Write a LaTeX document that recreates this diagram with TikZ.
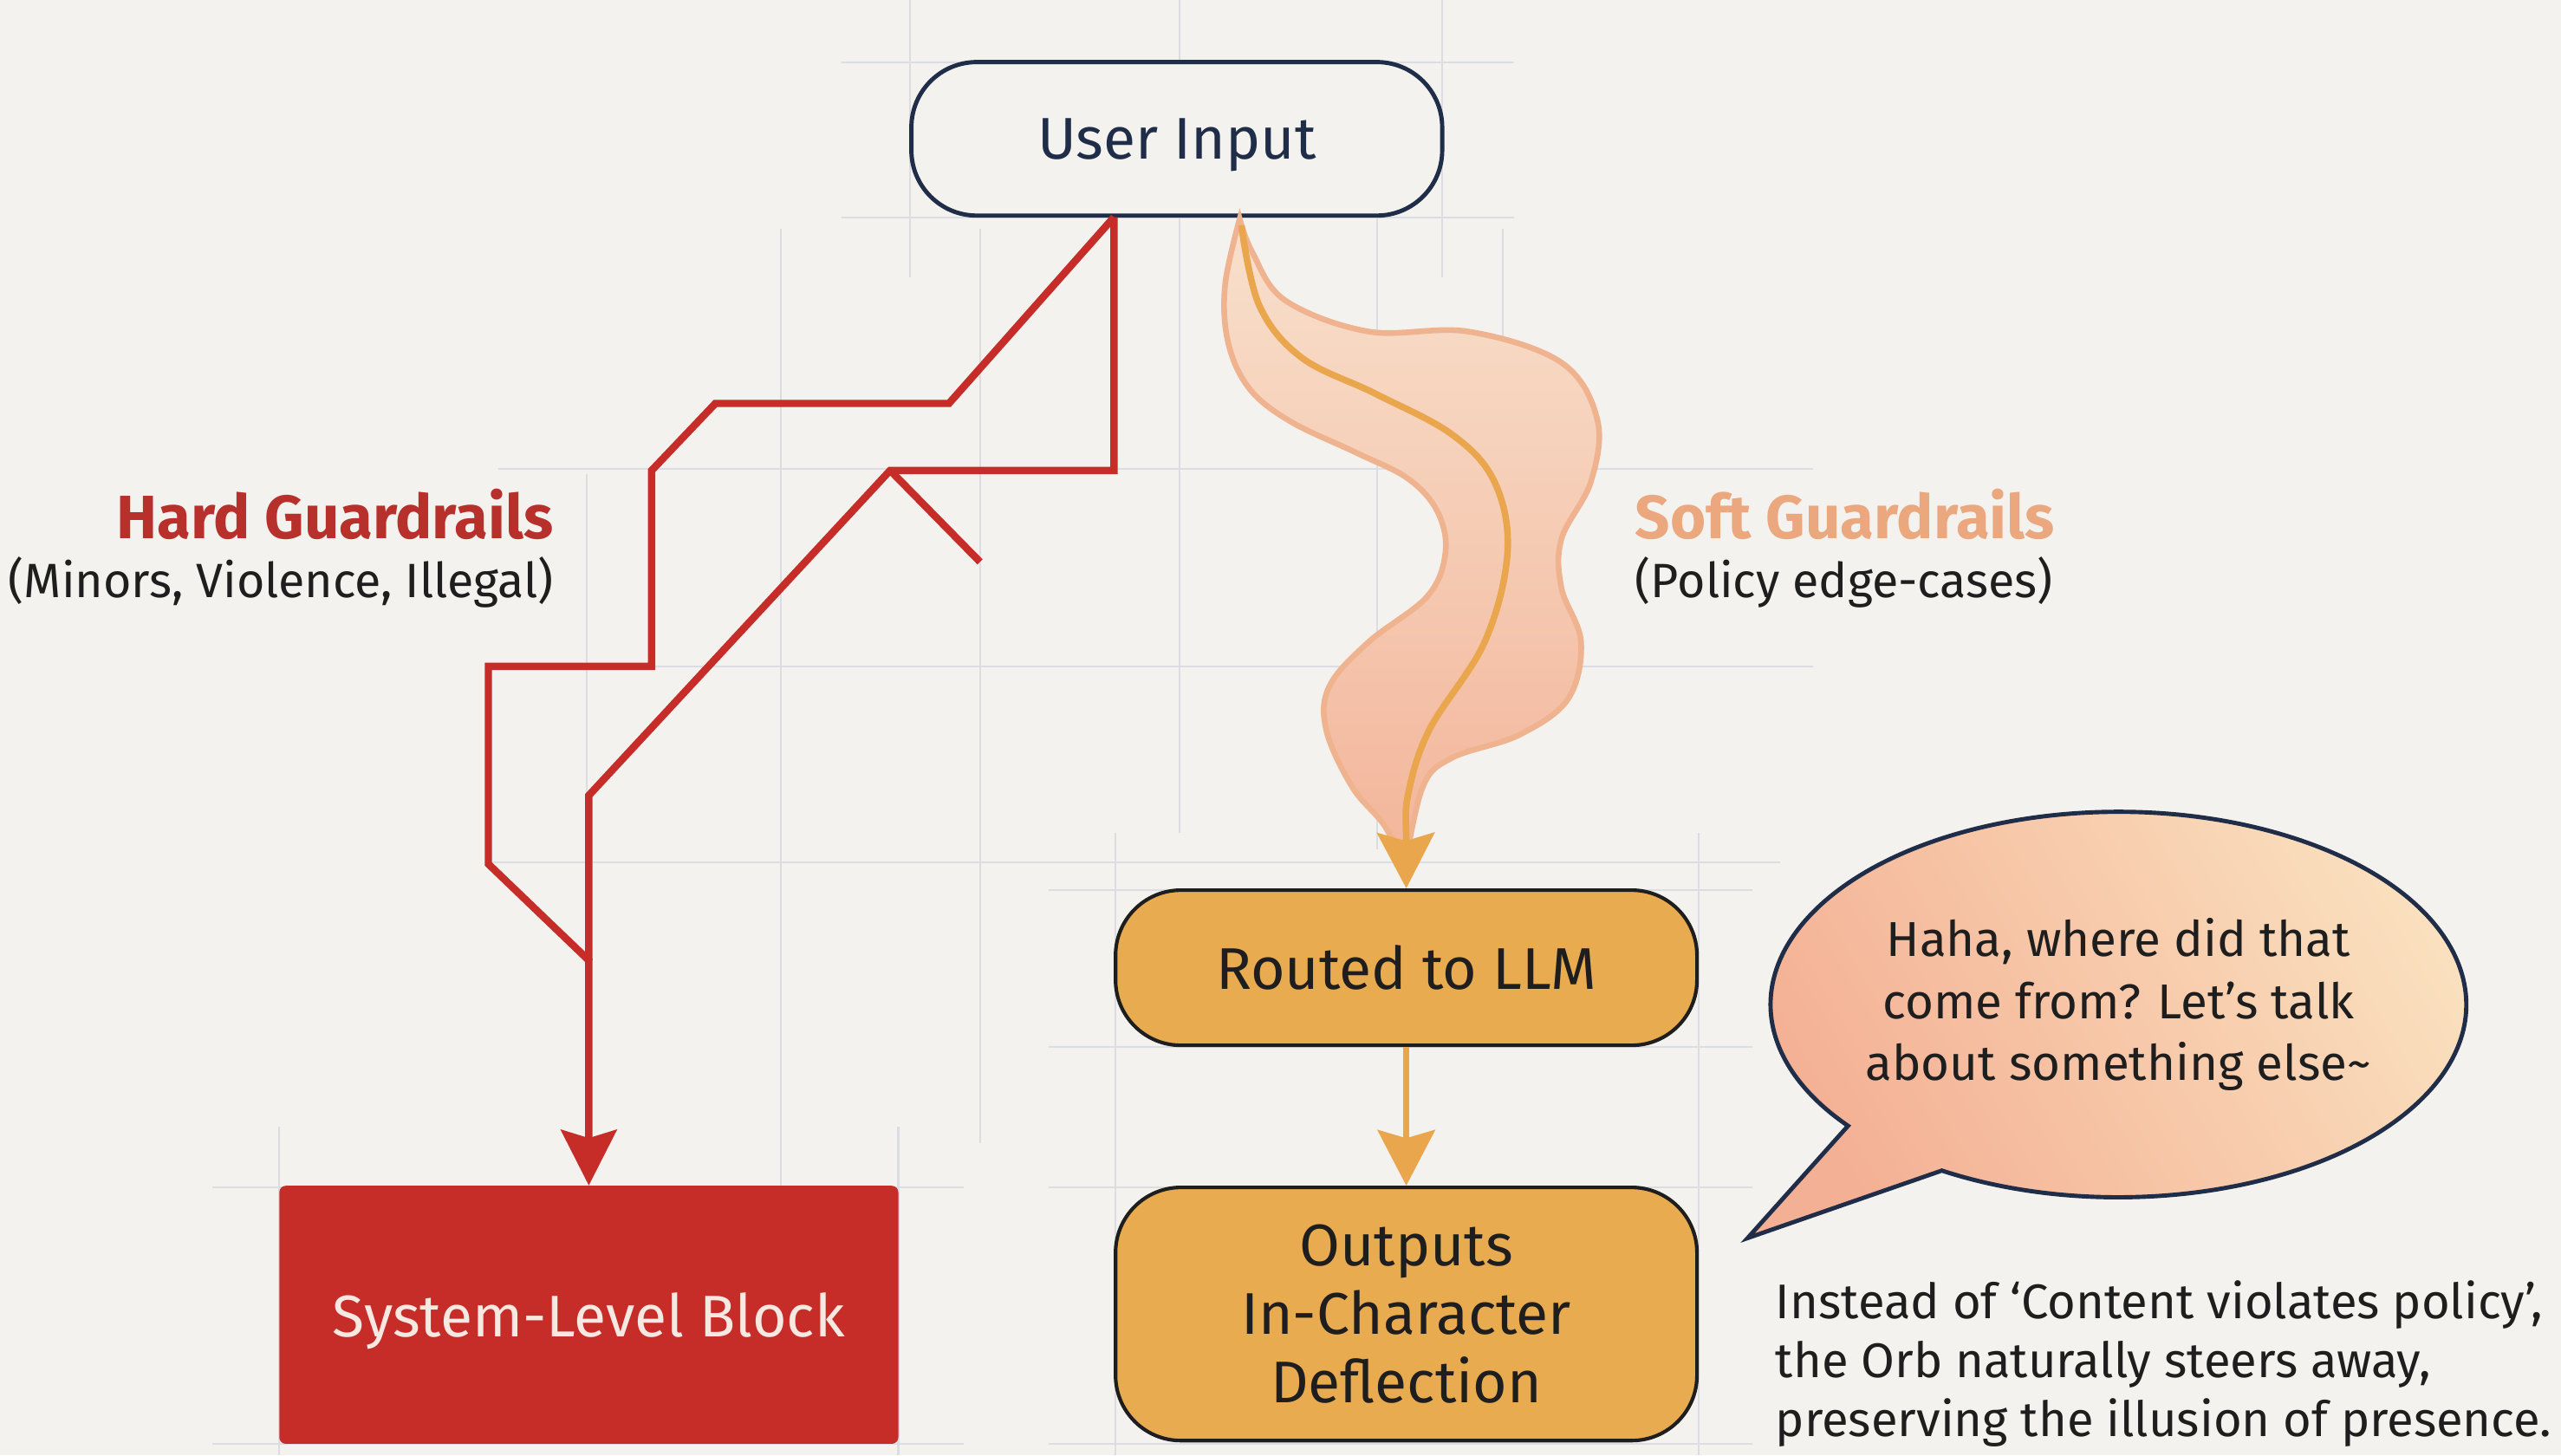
\documentclass[tikz,border=0pt]{standalone}
\usepackage{fontspec}
\setmainfont{Fira Sans}
\usetikzlibrary{arrows.meta,calc}
\definecolor{bg}{HTML}{F3F2EE}
\definecolor{gridc}{HTML}{DCDDE3}
\definecolor{navy}{HTML}{1F2D48}
\definecolor{hred}{HTML}{C62D29}
\definecolor{hlabel}{HTML}{B8302C}
\definecolor{obox}{HTML}{E9AB50}
\definecolor{oline}{HTML}{E9A64C}
\definecolor{dark}{HTML}{1E1E1E}
\definecolor{slabel}{HTML}{EBA77E}
\definecolor{flameedge}{HTML}{EFB48F}
\definecolor{flametop}{HTML}{F8E0CC}
\definecolor{flamebot}{HTML}{F3B59A}
\definecolor{bubl}{HTML}{F4B094}
\definecolor{bubr}{HTML}{FAE2C0}
\definecolor{systext}{HTML}{F8E8E2}
\tikzset{
  gridline/.style={draw=gridc, line width=1.1pt},
  inbox/.style={draw=navy, line width=2.6pt, rounded corners=40pt, fill=bg, text=navy,
    minimum width=325pt, minimum height=94pt, text depth=0pt, font=\fontsize{36}{42}\selectfont},
  obox/.style={draw=dark, line width=2.2pt, rounded corners=40pt, fill=obox, text=dark,
    minimum width=356pt, align=center, font=\fontsize{36}{42}\selectfont},
  sysbox/.style={fill=hred, rounded corners=4pt, text=systext, text depth=0pt,
    minimum width=379pt, minimum height=158pt, font=\fontsize{36}{42}\selectfont},
  redline/.style={draw=hred, line width=4.5pt, line join=miter},
  orangearrow/.style={draw=oline, line width=4pt, -{Stealth[length=34pt,width=35pt,inset=5pt]}},
  lbl/.style={inner sep=0pt, font=\fontsize{30}{36}\selectfont, text=dark},
}
\begin{document}
\begin{tikzpicture}[x=1pt,y=-1pt]
\fill[bg] (0,0) rectangle (1568,891);
\useasboundingbox (0,0) rectangle (1568,891);

% grid
\draw[gridline] (515,38) -- (927,38);
\draw[gridline] (515,133) -- (927,133);
\draw[gridline] (305,287) -- (1110,287);
\draw[gridline] (300,408) -- (1110,408);
\draw[gridline] (300,528) -- (1090,528);
\draw[gridline] (642,545) -- (1073,545);
\draw[gridline] (642,641) -- (1073,641);
\draw[gridline] (130,727) -- (590,727);
\draw[gridline] (642,727) -- (1073,727);
\draw[gridline] (130,884) -- (590,884);
\draw[gridline] (642,884) -- (1073,884);
\draw[gridline] (557,0) -- (557,170);
\draw[gridline] (722,0) -- (722,510);
\draw[gridline] (883,0) -- (883,170);
\draw[gridline] (843,133) -- (843,520);
\draw[gridline] (920,140) -- (920,440);
\draw[gridline] (359,290) -- (359,700);
\draw[gridline] (478,140) -- (478,880);
\draw[gridline] (600,140) -- (600,700);
\draw[gridline] (683,510) -- (683,891);
\draw[gridline] (1040,510) -- (1040,891);
\draw[gridline] (171,690) -- (171,891);
\draw[gridline] (550,690) -- (550,891);

% nodes
\node[inbox] (ui) at (720.5,85) {User Input};
\node[obox, minimum height=95pt] (routed) at (861,592.5) {Routed to LLM};
\node[obox, minimum height=155pt] (outp) at (861,804.5) {Outputs\\In-Character\\Deflection};
\node[sysbox] (sys) at (360.5,805) {System-Level Block};

% hard guardrails
\coordinate (h0) at (682,133);
\coordinate (hj) at (sys.north |- 0,588);
\coordinate (hk) at (545,288);
\coordinate (hs) at (600,344);
\draw[redline] (h0) -- (682,288) -- (hk) -- (sys.north |- 0,487) -- (hj);
\draw[redline] (hk) -- (hs);
\draw[redline, -{Stealth[length=34pt,width=34pt,inset=5pt]}] (h0) -- (581,247) -- (438,247) -- (399,288) -- (399,408)
  -- (299,408) -- (299,529) -- (hj) -- (sys.north);

% soft guardrails flame
\coordinate (f0) at (759,134);
\coordinate (f1) at (860,532);
\path[fill=flamebot, top color=flametop, bottom color=flamebot, draw=flameedge, line width=3.5pt]
  plot[smooth, tension=0.6] coordinates {(f0) (750,175) (752,210) (765,238) (790,258) (830,277) (862,293)
    (880,313) (885,338) (874,365) (838,393) (814,420) (812,447) (828,482) (848,506) (f1)}
  -- plot[smooth, tension=0.6] coordinates {(f1) (871,482) (889,464) (930,450) (960,428) (968,393) (956,360)
    (956,330) (974,295) (978,257) (956,222) (899,203) (838,203) (787,184) (767,155) (f0)} -- cycle;
\draw[orangearrow] plot[smooth, tension=0.6] coordinates {(760,138) (771,187) (797,219) (842,241) (889,266)
  (915,295) (923,338) (909,393) (875,447) (862,487) (861,515) (routed.north)};

\draw[orangearrow] (routed) -- (outp);

% labels
\node[lbl, anchor=base east, text=hlabel, font=\fontsize{37.5}{42}\selectfont\bfseries] (hl) at (339,330) {Hard Guardrails};
\node[lbl, anchor=base east, font=\fontsize{29.5}{36}\selectfont] (hs2) at (339,366) {(Minors, Violence, Illegal)};
\node[lbl, anchor=base west, text=slabel, font=\fontsize{37.5}{42}\selectfont\bfseries] (sl) at (1001,330) {Soft Guardrails};
\node[lbl, anchor=base west, font=\fontsize{29.5}{36}\selectfont] (ss2) at (1001,366) {(Policy edge-cases)};

% speech bubble
\path[draw=navy, line width=2.6pt, left color=bubl, right color=bubr, shading angle=120]
  (1188.9,716.7) arc[start angle=120.5, end angle=-219, x radius=213, y radius=118]
  -- (1070,758) -- cycle;
\node[lbl, align=center, font=\fontsize{30}{38}\selectfont] (bub) at (1297,615)
  {Haha, where did that\\come from? Let’s talk\\about something else\textasciitilde};

\node[lbl, align=left, anchor=north west, font=\fontsize{29.8}{36}\selectfont] (note) at (1087,784)
  {Instead of ‘Content violates policy’,\\the Orb naturally steers away,\\preserving the illusion of presence.};
\end{tikzpicture}
\end{document}
